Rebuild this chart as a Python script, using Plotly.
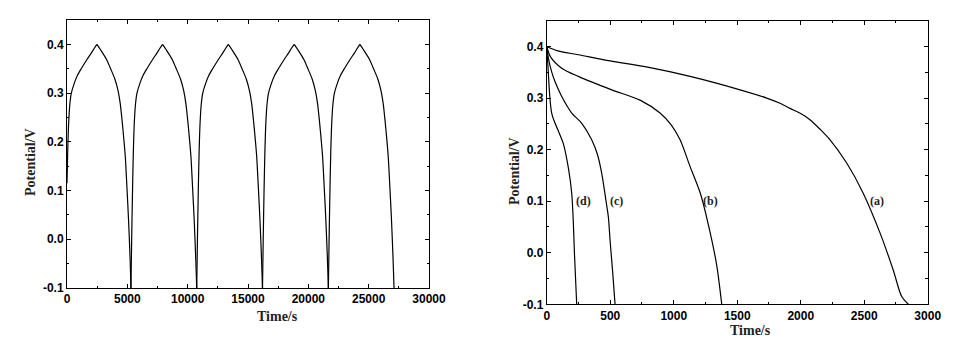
import plotly.graph_objects as go

# ---- Left panel: cyclic charge/discharge ----
cycle_time = [
    0, 60, 140, 240, 360, 630, 860, 1180, 1630, 2010, 2260, 2480,
    2780, 3280, 3580, 3980, 4230, 4410, 4580, 4730, 4830, 4960, 5100, 5230, 5300,
    5360, 5430, 5500, 5580, 5680, 5800, 6070, 6300, 6620, 7070, 7450, 7700, 7920,
    8220, 8720, 9020, 9420, 9670, 9850, 10020, 10170, 10270, 10400, 10540, 10670, 10750,
    10810, 10880, 10950, 11030, 11130, 11250, 11520, 11750, 12070, 12520, 12900, 13150, 13370,
    13670, 14170, 14470, 14870, 15120, 15300, 15470, 15620, 15720, 15850, 15990, 16120, 16200,
    16260, 16330, 16400, 16480, 16580, 16700, 16970, 17200, 17520, 17970, 18350, 18600, 18830,
    19130, 19630, 19930, 20330, 20580, 20760, 20930, 21080, 21180, 21310, 21450, 21580, 21660,
    21720, 21790, 21860, 21940, 22040, 22160, 22430, 22660, 22980, 23430, 23810, 24060, 24270,
    24570, 25070, 25370, 25770, 26020, 26200, 26370, 26520, 26620, 26750, 26890, 27020, 27100,
]
cycle_potential = [
    0.115, 0.18, 0.24, 0.278, 0.300, 0.322, 0.336, 0.350, 0.368, 0.382, 0.392, 0.400,
    0.389, 0.369, 0.352, 0.328, 0.305, 0.279, 0.240, 0.200, 0.170, 0.110, 0.040, -0.040, -0.100,
    0.000, 0.100, 0.180, 0.240, 0.278, 0.300, 0.322, 0.336, 0.350, 0.368, 0.382, 0.392, 0.400,
    0.389, 0.369, 0.352, 0.328, 0.305, 0.279, 0.240, 0.200, 0.170, 0.110, 0.040, -0.040, -0.100,
    0.000, 0.100, 0.180, 0.240, 0.278, 0.300, 0.322, 0.336, 0.350, 0.368, 0.382, 0.392, 0.400,
    0.389, 0.369, 0.352, 0.328, 0.305, 0.279, 0.240, 0.200, 0.170, 0.110, 0.040, -0.040, -0.100,
    0.000, 0.100, 0.180, 0.240, 0.278, 0.300, 0.322, 0.336, 0.350, 0.368, 0.382, 0.392, 0.400,
    0.389, 0.369, 0.352, 0.328, 0.305, 0.279, 0.240, 0.200, 0.170, 0.110, 0.040, -0.040, -0.100,
    0.000, 0.100, 0.180, 0.240, 0.278, 0.300, 0.322, 0.336, 0.350, 0.368, 0.382, 0.392, 0.400,
    0.389, 0.369, 0.352, 0.328, 0.305, 0.279, 0.240, 0.200, 0.170, 0.110, 0.040, -0.040, -0.100,
]

# ---- Right panel: discharge curves (a)-(d) ----
a_time = [0, 80, 250, 500, 774, 1129, 1522, 1732, 1837, 1916, 2000, 2073, 2150, 2231, 2362, 2493, 2625, 2729, 2795, 2848]
a_pot = [0.400, 0.392, 0.384, 0.372, 0.361, 0.342, 0.316, 0.300, 0.290, 0.280, 0.270, 0.258, 0.240, 0.219, 0.174, 0.115, 0.038, -0.034, -0.085, -0.100]

b_time = [0, 30, 118, 249, 512, 735, 892, 980, 1050, 1129, 1210, 1286, 1339, 1378]
b_pot = [0.400, 0.380, 0.358, 0.342, 0.316, 0.296, 0.271, 0.248, 0.219, 0.167, 0.115, 0.040, -0.025, -0.100]

c_time = [0, 15, 40, 65, 118, 197, 276, 354, 400, 433, 467, 485, 500, 520, 538]
c_pot = [0.400, 0.375, 0.350, 0.332, 0.303, 0.271, 0.251, 0.219, 0.190, 0.154, 0.100, 0.070, 0.020, -0.040, -0.100]

d_time = [0, 10, 25, 38, 55, 90, 130, 170, 197, 210, 218, 236]
d_pot = [0.400, 0.360, 0.300, 0.272, 0.258, 0.237, 0.212, 0.165, 0.115, 0.055, 0.000, -0.100]

curve_labels = ["(a)", "(b)", "(c)", "(d)"]
label_time = [2601, 1288, 553, 291]
label_pot = [0.1, 0.1, 0.1, 0.1]

x_title = "Time/s"
y_title = "Potential/V"

fig = go.Figure()
line_style = dict(color="black", width=1.2, shape="spline", smoothing=0.8)

# split the cyclic curve at its turning points so every branch is smoothed separately
turns = [0] + [i for i, v in enumerate(cycle_potential) if v in (0.4, -0.1)]
if turns[-1] != len(cycle_potential) - 1:
    turns.append(len(cycle_potential) - 1)
for s, e in zip(turns[:-1], turns[1:]):
    fig.add_trace(go.Scatter(x=cycle_time[s:e + 1], y=cycle_potential[s:e + 1], mode="lines",
                             line=line_style, xaxis="x", yaxis="y", showlegend=False, hoverinfo="skip"))

for tx, py in [(a_time, a_pot), (b_time, b_pot), (c_time, c_pot), (d_time, d_pot)]:
    fig.add_trace(go.Scatter(x=tx, y=py, mode="lines", line=line_style,
                             xaxis="x2", yaxis="y2", showlegend=False))

tickfont = dict(family="Liberation Sans, Arial", size=12, color="black", weight="bold")
titlefont = dict(family="Liberation Serif, Times New Roman", size=14, color="#222", weight="bold")

def axis_common():
    return dict(showline=True, linecolor="black", linewidth=1, mirror="allticks",
                ticks="inside", ticklen=4, tickwidth=1, tickcolor="black", automargin=False,
                showgrid=False, zeroline=False, tickfont=tickfont)

fig.update_layout(
    template="none",
    width=957, height=340, autosize=False,
    margin=dict(l=0, r=0, t=0, b=0, pad=0),
    paper_bgcolor="white", plot_bgcolor="white",
    xaxis=dict(domain=[0.0700, 0.4483], range=[0, 30000], tickvals=[0, 5000, 10000, 15000, 20000, 25000, 30000],
               ticktext=["0", "5000", "10000", "15000", "20000", "25000", "30000"],
               minor=dict(tickvals=[2500, 7500, 12500, 17500, 22500, 27500], ticks="inside", ticklen=2.5, tickcolor="black"),
               anchor="y", **axis_common()),
    yaxis=dict(domain=[0.1529, 0.9412], range=[-0.1, 0.45], tickvals=[-0.1, 0.0, 0.1, 0.2, 0.3, 0.4],
               ticktext=["-0.1", "0.0", "0.1", "0.2", "0.3", "0.4"],
               minor=dict(tickvals=[-0.05, 0.05, 0.15, 0.25, 0.35, 0.45], ticks="inside", ticklen=2.5, tickcolor="black"),
               anchor="x", **axis_common()),
    xaxis2=dict(domain=[0.5713, 0.9694], range=[0, 3000], tickvals=[0, 500, 1000, 1500, 2000, 2500, 3000],
                ticktext=["0", "500", "1000", "1500", "2000", "2500", "3000"],
                minor=dict(tickvals=[250, 750, 1250, 1750, 2250, 2750], ticks="inside", ticklen=2.5, tickcolor="black"),
                anchor="y2", **axis_common()),
    yaxis2=dict(domain=[0.105, 0.939], range=[-0.1, 0.45], tickvals=[-0.1, 0.0, 0.1, 0.2, 0.3, 0.4],
                ticktext=["-0.1", "0.0", "0.1", "0.2", "0.3", "0.4"],
                minor=dict(tickvals=[-0.05, 0.05, 0.15, 0.25, 0.35, 0.45], ticks="inside", ticklen=2.5, tickcolor="black"),
                anchor="x2", **axis_common()),
)

# axis titles (placed as in the original figure, slightly off-centre)
fig.add_annotation(x=277 / 957, y=1 - 316 / 340, xref="paper", yref="paper", text=x_title,
                   showarrow=False, font=titlefont, xanchor="center", yanchor="middle")
fig.add_annotation(x=750 / 957, y=1 - 330.5 / 340, xref="paper", yref="paper", text=x_title,
                   showarrow=False, font=titlefont, xanchor="center", yanchor="middle")
fig.add_annotation(x=30.5 / 957, y=1 - 162.5 / 340, xref="paper", yref="paper", text=y_title,
                   showarrow=False, font=titlefont, textangle=-90, xanchor="center", yanchor="middle")
fig.add_annotation(x=514 / 957, y=1 - 171 / 340, xref="paper", yref="paper", text=y_title,
                   showarrow=False, font=titlefont, textangle=-90, xanchor="center", yanchor="middle")

for lab, tx, py in zip(curve_labels, label_time, label_pot):
    fig.add_annotation(x=tx, y=py, xref="x2", yref="y2", text=lab, showarrow=False,
                       font=dict(family="Liberation Serif, Times New Roman", size=12, color="#222", weight="bold"))

fig.write_html("out.html")
